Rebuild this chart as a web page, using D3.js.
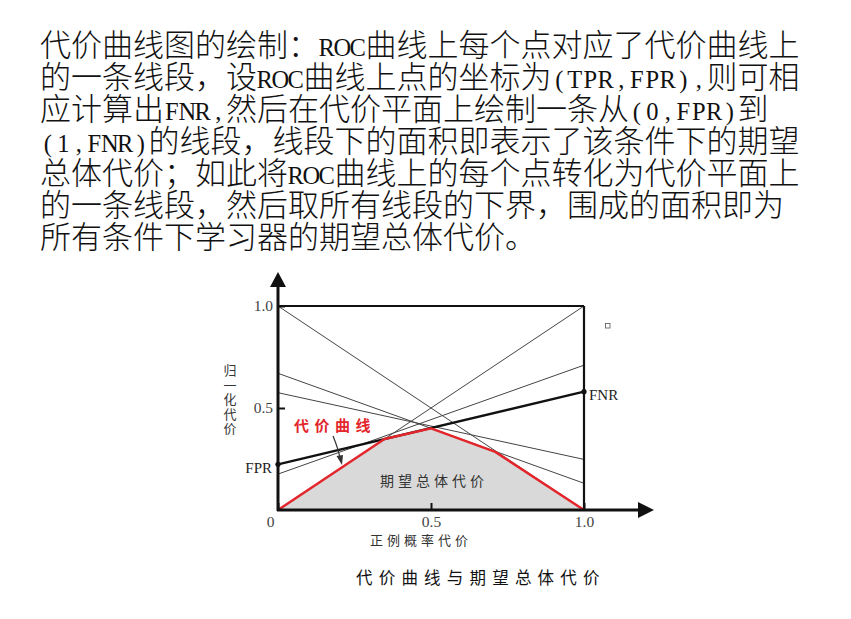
<!DOCTYPE html>
<html>
<head>
<meta charset="utf-8">
<script src="https://cdn.jsdelivr.net/npm/d3@7"></script>
<style>
  body { margin: 0; background: #fff; }
  svg { display: block; }
</style>
</head>
<body>
<svg id="chart" width="851" height="619"></svg>
<script>
// Paragraph text above the chart, one entry per visual line.
const paragraphLines = [
  "代价曲线图的绘制：ROC曲线上每个点对应了代价曲线上",
  "的一条线段，设ROC曲线上点的坐标为(TPR,FPR),则可相",
  "应计算出FNR,然后在代价平面上绘制一条从(0,FPR)到",
  "(1,FNR)的线段，线段下的面积即表示了该条件下的期望",
  "总体代价；如此将ROC曲线上的每个点转化为代价平面上",
  "的一条线段，然后取所有线段的下界，围成的面积即为",
  "所有条件下学习器的期望总体代价。"
];

// Thin cost lines: value at x = 0 and value at x = 1.
const thinLineStart = [1.0, 0.0, 0.176, 0.67, 0.575];
const thinLineEnd = [0.0, 1.0, 0.71, 0.131, 0.248];

// Highlighted line from (0, FPR) to (1, FNR).
const boldLineStart = 0.224;
const boldLineEnd = 0.58;

// Lower envelope (cost curve) vertices.
const curveX = [0, 0.348, 0.5, 0.71, 1.0];
const curveY = [0, 0.348, 0.40, 0.285, 0];

// Axis ticks.
const xTicks = [0, 0.5, 1.0];
const xTickLabels = ["0", "0.5", "1.0"];
const yTicks = [0.5, 1.0];
const yTickLabels = ["0.5", "1.0"];

const yAxisTitle = ["归", "一", "化", "代", "价"];
const xAxisTitle = "正例概率代价";
const curveLabel = "代价曲线";
const areaLabel = "期望总体代价";
const caption = "代价曲线与期望总体代价";

const cjkFont = "'Noto Sans CJK SC', sans-serif";
const serifFont = "'Liberation Serif', 'DejaVu Serif', serif";

const svg = d3.select("#chart");

// Paragraph layout: full-width cells for CJK, half-width cells for Latin (like SimSun).
const cellSize = 31;
const asciiSize = 24.5;
const measure = svg.append("text")
  .attr("font-family", serifFont)
  .attr("font-size", asciiSize)
  .attr("visibility", "hidden");
const widthCache = {};
function asciiWidth(ch) {
  if (!(ch in widthCache)) {
    measure.text(ch);
    widthCache[ch] = measure.node().getComputedTextLength();
  }
  return widthCache[ch];
}

function drawParagraphLine(text, x0, baseline) {
  const node = svg.append("text")
    .attr("y", baseline)
    .attr("font-family", cjkFont)
    .attr("font-weight", 300)
    .attr("font-size", cellSize)
    .attr("fill", "#111");
  const runs = text.match(/[\x00-\x7F]+|[^\x00-\x7F]+/g);
  let x = x0;
  runs.forEach(function drawRun(run) {
    const ascii = /^[\x00-\x7F]+$/.test(run);
    const xs = [];
    Array.from(run).forEach(function place(ch) {
      if (ascii) {
        const half = cellSize / 2;
        xs.push((x + (half - asciiWidth(ch)) / 2).toFixed(2));
        x += half;
      } else {
        xs.push(x.toFixed(2));
        x += cellSize;
      }
    });
    const span = node.append("tspan").attr("x", xs.join(" ")).text(run);
    if (ascii) {
      span.attr("font-family", serifFont)
        .attr("font-weight", 400)
        .attr("font-size", asciiSize);
    }
  });
}

paragraphLines.forEach(function each(line, i) {
  drawParagraphLine(line, 40, 56 + i * 32);
});
measure.remove();

// Chart scales.
const xScale = d3.scaleLinear().domain([0, 1]).range([278, 584]);
const yScale = d3.scaleLinear().domain([0, 1]).range([510, 306]);

const plot = svg.append("g");

// Shaded expected total cost area.
const area = d3.area()
  .x(function ax(d, i) { return xScale(curveX[i]); })
  .y0(yScale(0))
  .y1(function ay(d, i) { return yScale(curveY[i]); });

plot.append("path")
  .datum(curveX)
  .attr("d", area)
  .attr("fill", "#d9d9d9");

// Thin cost lines.
plot.selectAll(".thin-line")
  .data(thinLineStart)
  .enter()
  .append("line")
  .attr("class", "thin-line")
  .attr("x1", xScale(0))
  .attr("y1", function y1(d) { return yScale(d); })
  .attr("x2", xScale(1))
  .attr("y2", function y2(d, i) { return yScale(thinLineEnd[i]); })
  .attr("stroke", "#444")
  .attr("stroke-width", 1);

// Box top and right edges.
plot.append("line")
  .attr("x1", xScale(0)).attr("y1", yScale(1))
  .attr("x2", xScale(1)).attr("y2", yScale(1))
  .attr("stroke", "#111").attr("stroke-width", 2);
plot.append("line")
  .attr("x1", xScale(1)).attr("y1", yScale(0))
  .attr("x2", xScale(1)).attr("y2", yScale(1))
  .attr("stroke", "#111").attr("stroke-width", 2.2);

// Bold (0,FPR)-(1,FNR) line with end dots.
plot.append("line")
  .attr("x1", xScale(0)).attr("y1", yScale(boldLineStart))
  .attr("x2", xScale(1)).attr("y2", yScale(boldLineEnd))
  .attr("stroke", "#111").attr("stroke-width", 2.4);
plot.selectAll(".end-dot")
  .data([[0, boldLineStart], [1, boldLineEnd]])
  .enter()
  .append("circle")
  .attr("cx", function cx(d) { return xScale(d[0]); })
  .attr("cy", function cy(d) { return yScale(d[1]); })
  .attr("r", 2.6)
  .attr("fill", "#111");

// Red cost curve.
const curveLine = d3.line()
  .x(function lx(d, i) { return xScale(curveX[i]); })
  .y(function ly(d, i) { return yScale(curveY[i]); });

plot.append("path")
  .datum(curveX)
  .attr("d", curveLine)
  .attr("fill", "none")
  .attr("stroke", "#e3262c")
  .attr("stroke-width", 2.5)
  .attr("stroke-linejoin", "round");

// Axes with tick labels.
const xAxis = plot.append("g")
  .attr("transform", "translate(0," + yScale(0) + ")")
  .call(d3.axisBottom(xScale)
    .tickValues(xTicks)
    .tickFormat(function fx(d, i) { return xTickLabels[i]; })
    .tickSize(-7)
    .tickPadding(6));
xAxis.select(".domain").remove();
xAxis.selectAll("line").attr("stroke", "#111").attr("stroke-width", 2);
xAxis.selectAll("text")
  .attr("font-family", serifFont)
  .attr("font-size", 15.5)
  .attr("fill", "#444");
// the origin label sits a little left of the corner in the source
xAxis.selectAll("text")
  .filter(function isOrigin(d) { return d === 0; })
  .attr("dx", -8);

const yAxis = plot.append("g")
  .attr("transform", "translate(" + xScale(0) + ",0)")
  .call(d3.axisLeft(yScale)
    .tickValues(yTicks)
    .tickFormat(function fy(d, i) { return yTickLabels[i]; })
    .tickSize(-7)
    .tickPadding(5));
yAxis.select(".domain").remove();
yAxis.selectAll("line").attr("stroke", "#111").attr("stroke-width", 2);
yAxis.selectAll("text")
  .attr("font-family", serifFont)
  .attr("font-size", 15.5)
  .attr("fill", "#444");

// Axis lines with arrow heads.
const x0 = xScale(0);
const y0 = yScale(0);
plot.append("line")
  .attr("x1", x0).attr("y1", y0 + 1)
  .attr("x2", x0).attr("y2", 284)
  .attr("stroke", "#111").attr("stroke-width", 3);
plot.append("path")
  .attr("d", "M" + x0 + ",272 L" + (x0 - 8) + ",287 L" + (x0 + 8) + ",287 Z")
  .attr("fill", "#111");
plot.append("line")
  .attr("x1", x0 - 1).attr("y1", y0)
  .attr("x2", 640).attr("y2", y0)
  .attr("stroke", "#111").attr("stroke-width", 3);
plot.append("path")
  .attr("d", "M654," + y0 + " L638," + (y0 - 8) + " L638," + (y0 + 8) + " Z")
  .attr("fill", "#111");

// End labels.
plot.append("text")
  .attr("x", xScale(1) + 5)
  .attr("y", yScale(boldLineEnd) + 8)
  .attr("font-family", serifFont)
  .attr("font-size", 15)
  .attr("fill", "#222")
  .text("FNR");
plot.append("text")
  .attr("x", xScale(0) - 6)
  .attr("y", yScale(boldLineStart) + 9)
  .attr("text-anchor", "end")
  .attr("font-family", serifFont)
  .attr("font-size", 15)
  .attr("fill", "#222")
  .text("FPR");

// Red curve label and pointer arrow.
plot.append("text")
  .attr("x", 294)
  .attr("y", 431)
  .attr("font-family", cjkFont)
  .attr("font-weight", 700)
  .attr("font-size", 15)
  .attr("letter-spacing", 5.5)
  .attr("fill", "#e3262c")
  .text(curveLabel);
plot.append("path")
  .attr("d", "M333,436 Q338,448 340,458")
  .attr("fill", "none")
  .attr("stroke", "#333")
  .attr("stroke-width", 1.2);
plot.append("path")
  .attr("d", "M342,465 L336.5,456 L343,455 Z")
  .attr("fill", "#333");

// Area label.
plot.append("text")
  .attr("x", 380)
  .attr("y", 486)
  .attr("font-family", cjkFont)
  .attr("font-size", 14)
  .attr("letter-spacing", 4)
  .attr("fill", "#333")
  .text(areaLabel);

// Axis titles.
plot.append("text")
  .attr("x", 370)
  .attr("y", 545)
  .attr("font-family", cjkFont)
  .attr("font-size", 13)
  .attr("letter-spacing", 4)
  .attr("fill", "#333")
  .text(xAxisTitle);
plot.selectAll(".y-title")
  .data(yAxisTitle)
  .enter()
  .append("text")
  .attr("class", "y-title")
  .attr("x", 230)
  .attr("y", function ty(d, i) { return 375 + i * 14.5; })
  .attr("text-anchor", "middle")
  .attr("font-family", cjkFont)
  .attr("font-size", 13)
  .attr("fill", "#333")
  .text(function tt(d) { return d; });

// Stray small square from the source figure.
plot.append("rect")
  .attr("x", 605.5).attr("y", 323.5)
  .attr("width", 4.5).attr("height", 4.5)
  .attr("fill", "none")
  .attr("stroke", "#555")
  .attr("stroke-width", 0.8);

// Figure caption.
svg.append("text")
  .attr("x", 356)
  .attr("y", 584)
  .attr("font-family", cjkFont)
  .attr("font-size", 16.5)
  .attr("letter-spacing", 6.2)
  .attr("fill", "#111")
  .text(caption);
</script>
</body>
</html>
